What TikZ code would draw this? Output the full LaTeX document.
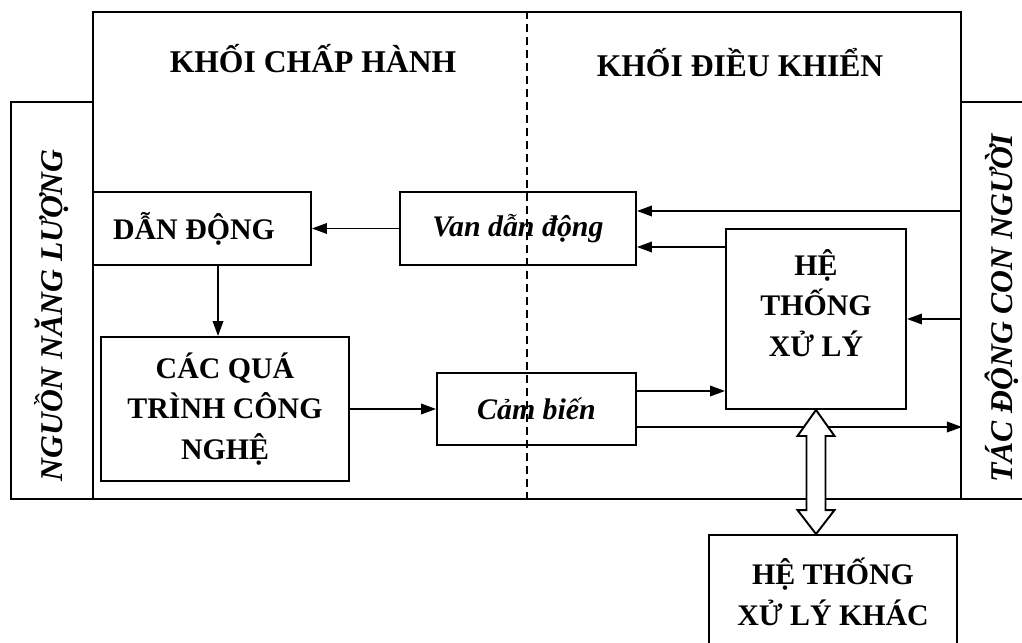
\documentclass[tikz,border=0pt]{standalone}
\usepackage{fontspec}
\setmainfont{Liberation Serif}
\usetikzlibrary{arrows.meta,calc}
\tikzset{
  txt/.style={align=center, font=\fontsize{17}{23}\selectfont\bfseries},
  box/.style={draw, line width=1.1pt, txt, inner sep=2pt},
  ibox/.style={box, font=\fontsize{17}{23}\selectfont\bfseries\itshape},
  side/.style={draw, line width=1.1pt, rotate=90, minimum width=7.94cm, minimum height=1.64cm,
    font=\fontsize{18}{22}\selectfont\bfseries\itshape},
  head/.style={font=\fontsize{18}{22}\selectfont\bfseries, anchor=base},
  arr/.style={line width=1.1pt, -{Triangle[length=3mm,width=2.1mm]}},
  dbl/.style={line width=1.1pt, fill=white, line join=miter},
}
\begin{document}
\begin{tikzpicture}
\path[use as bounding box, clip] (0,0) rectangle (20.44,12.84);
% khung ngoai va hai dai ben
\node[draw, line width=1.1pt, minimum width=17.36cm, minimum height=9.74cm] (frame) at (10.54,7.73) {};
\node[side] (nguon) at (1.04,6.83) {NGUỒN NĂNG LƯỢNG\hspace*{0.6cm}};
\node[side] (tacdong) at (20.04,6.83) {TÁC ĐỘNG CON NGƯỜI\hspace*{0.32cm}};
\draw[line width=0.8pt, dash pattern=on 1.6mm off 1mm] (frame.north) -- (frame.south);
\node[head] (kch) at (6.26,11.38) {KHỐI CHẤP HÀNH};
\node[head] (kdk) at (14.8,11.3) {KHỐI ĐIỀU KHIỂN};
% cac khoi
\node[box, minimum width=4.36cm, minimum height=1.46cm] (dd) at (4.04,8.27) {DẪN ĐỘNG\hspace*{0.32cm}};
\node[ibox, minimum width=4.72cm, minimum height=1.46cm] (van) at (10.36,8.27) {Van dẫn động};
\node[box, minimum width=4.96cm, minimum height=2.88cm] (cqt) at (4.5,4.66) {CÁC QUÁ\\TRÌNH CÔNG\\NGHỆ};
\node[ibox, minimum width=3.98cm, minimum height=1.44cm] (cb) at (10.73,4.66) {Cảm biến};
\node[box, minimum width=3.6cm, minimum height=3.6cm,
  label={[txt, name=htxl, yshift=3.2mm]center:{HỆ\\THỐNG\\XỬ LÝ}}] (hts) at (16.32,6.46) {};
\node[box, minimum width=4.96cm, minimum height=2.28cm] (khac) at (16.66,1.0) {HỆ THỐNG\\XỬ LÝ KHÁC};
% mui ten
\coordinate (vin) at ([yshift=3.5mm]van.east);
\coordinate (vin2) at ([yshift=-3.7mm]van.east);
\coordinate (cbo) at ([yshift=3.6mm]cb.east);
\coordinate (cbo2) at ([yshift=-3.6mm]cb.east);
\draw[arr] (van) -- (dd);
\draw[arr] ([xshift=3.2mm]dd.south) -- ([xshift=3.2mm]dd.south |- cqt.north);
\draw[arr] (cqt) -- (cb);
\draw[arr] (vin -| frame.east) -- (vin);
\draw[arr] (vin2 -| hts.west) -- (vin2);
\draw[arr] (hts.east -| frame.east) -- (hts.east);
\draw[arr] (cbo) -- (cbo -| hts.west);
\draw[arr] (cbo2) -- (cbo2 -| frame.east);
% mui ten hai dau
\coordinate (dtop) at (hts.south);
\coordinate (dbot) at (hts.south |- khac.north);
\draw[dbl] (dtop) -- ++(0.37,-0.52) -- ++(-0.18,0) -- ($(dbot)+(0.19,0.48)$) -- ++(0.18,0)
  -- (dbot) -- ++(-0.37,0.48) -- ++(0.18,0) -- ($(dtop)+(-0.19,-0.52)$) -- ++(-0.18,0) -- cycle;
\end{tikzpicture}
\end{document}
